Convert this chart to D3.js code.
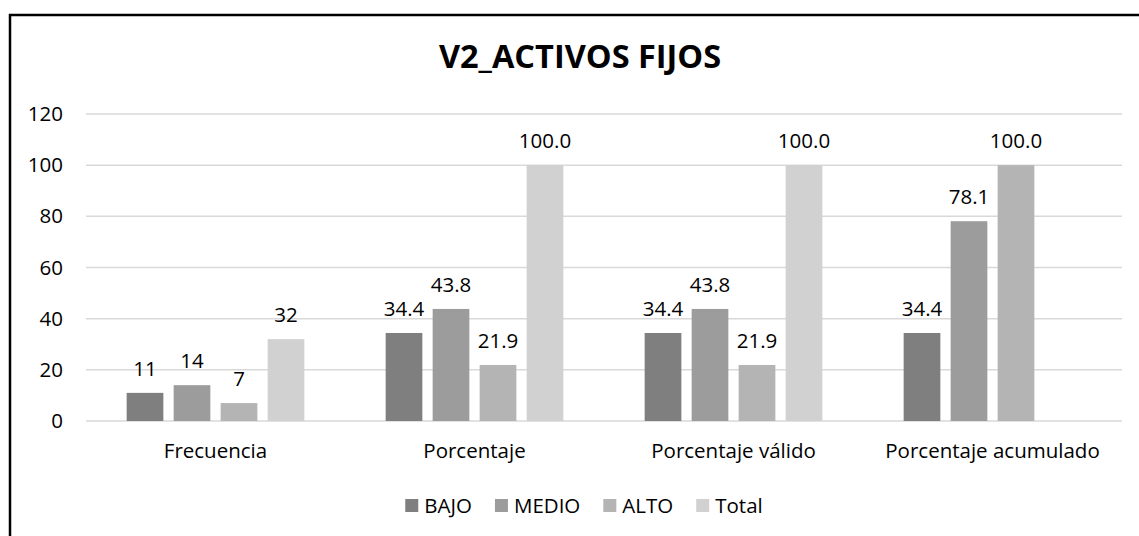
<!DOCTYPE html>
<html>
<head>
<meta charset="utf-8">
<script src="https://cdn.jsdelivr.net/npm/d3@7"></script>
<style>
  html, body { margin: 0; padding: 0; background: #fff; }
  svg { display: block; }
  text { font-family: "Open Sans", sans-serif; fill: #000; }
</style>
</head>
<body>
<svg id="chart" width="1139" height="536"></svg>
<script>
const title = "V2_ACTIVOS FIJOS";
const categories = ["Frecuencia", "Porcentaje", "Porcentaje válido", "Porcentaje acumulado"];
const seriesNames = ["BAJO", "MEDIO", "ALTO", "Total"];
const bajo  = [11, 34.4, 34.4, 34.4];
const medio = [14, 43.8, 43.8, 78.1];
const alto  = [7, 21.9, 21.9, 100.0];
const total = [32, 100.0, 100.0, null];
const labelDecimals = [0, 1, 1, 1];
const yTicks = [0, 20, 40, 60, 80, 100, 120];
const colors = ["#7f7f7f", "#9c9c9c", "#b4b4b4", "#d1d1d1"];

const seriesValues = [bajo, medio, alto, total];
const FS = 20.5;

const svg = d3.select("#chart");

// outer frame
svg.append("rect")
  .attr("x", 10).attr("y", 15)
  .attr("width", 1300).attr("height", 700)
  .attr("fill", "none").attr("stroke", "#000").attr("stroke-width", 2.5);

const x0 = d3.scaleBand().domain(categories).range([86, 1122]).padding(0);
const x1 = d3.scaleBand().domain(seriesNames).range([0, x0.bandwidth()])
  .paddingInner(0.219).paddingOuter(0.865);
const y = d3.scaleLinear().domain([0, 120]).range([421, 114]);

// gridlines
svg.append("g").selectAll("line").data(yTicks).join("line")
  .attr("x1", 86).attr("x2", 1122)
  .attr("y1", d => y(d)).attr("y2", d => y(d))
  .attr("stroke", "#d9d9d9").attr("stroke-width", 1.5);

// y axis labels
const yAxis = d3.axisLeft(y).tickValues(yTicks).tickSize(0).tickPadding(0);
const yg = svg.append("g").attr("transform", "translate(63,0)").call(yAxis);
yg.select(".domain").remove();
yg.selectAll("text").attr("font-size", FS).attr("font-family", "'Open Sans', sans-serif").attr("fill", "#000");

// x axis labels
const xAxis = d3.axisBottom(x0).tickSize(0).tickPadding(0);
const xg = svg.append("g").attr("transform", "translate(0,443)").call(xAxis);
xg.select(".domain").remove();
xg.selectAll("text").attr("font-size", FS).attr("font-family", "'Open Sans', sans-serif").attr("fill", "#000");

// bars
const flat = [];
categories.forEach((c, ci) => {
  seriesNames.forEach((s, si) => {
    const v = seriesValues[si][ci];
    if (v !== null && v !== undefined) flat.push({c, ci, s, si, v});
  });
});

svg.append("g").selectAll("rect").data(flat).join("rect")
  .attr("x", d => x0(d.c) + x1(d.s))
  .attr("y", d => y(d.v))
  .attr("width", x1.bandwidth())
  .attr("height", d => y(0) - y(d.v))
  .attr("fill", d => colors[d.si]);

svg.append("g").selectAll("text").data(flat).join("text")
  .attr("x", d => x0(d.c) + x1(d.s) + x1.bandwidth() / 2)
  .attr("y", d => y(d.v) - 17)
  .attr("text-anchor", "middle")
  .attr("font-size", FS)
  .text(d => d.v.toFixed(labelDecimals[d.ci]));

// title
svg.append("text")
  .attr("x", 580).attr("y", 68)
  .attr("text-anchor", "middle")
  .attr("font-size", 32.5).attr("font-weight", "bold")
  .text(title);

// legend
const lg = svg.append("g");
let cx = 0;
seriesNames.forEach((s, i) => {
  const g = lg.append("g").attr("transform", `translate(${cx},0)`);
  g.append("rect").attr("x", 0).attr("y", 499).attr("width", 13).attr("height", 13).attr("fill", colors[i]);
  const t = g.append("text").attr("x", 19).attr("y", 513).attr("font-size", FS).text(s);
  cx += 19 + t.node().getComputedTextLength() + 23;
});
const legendWidth = cx - 23;
lg.attr("transform", `translate(${584 - legendWidth / 2},0)`);
</script>
</body>
</html>
